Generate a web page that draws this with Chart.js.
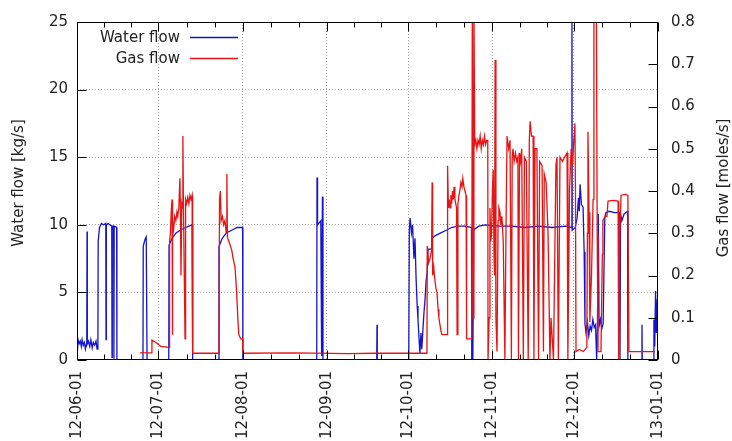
<!DOCTYPE html>
<html>
<head>
<meta charset="utf-8">
<script src="https://cdn.jsdelivr.net/npm/chart.js@4.4.0/dist/chart.umd.min.js"></script>
<style>
html, body { margin: 0; padding: 0; background: #fff; }
#wrap { width: 732px; height: 441px; }
</style>
</head>
<body>
<div id="wrap"><canvas id="flow"></canvas></div>
<script>
// x values are days counted from 2012-06-01
const monthDays = [0, 30, 61, 92, 122, 153, 183, 214];
const monthLabels = ['12-06-01', '12-07-01', '12-08-01', '12-09-01', '12-10-01', '12-11-01', '12-12-01', '13-01-01'];
const waterTicks = [0, 5, 10, 15, 20, 25];
const gasTicks = [0, 0.1, 0.2, 0.3, 0.4, 0.5, 0.6, 0.7, 0.8];
const gasTickLabels = ['0', '0.1', '0.2', '0.3', '0.4', '0.5', '0.6', '0.7', '0.8'];

// water flow [kg/s]
const waterDays = [
	0, 0.1, 0.4, 0.8, 1.2, 1.6, 1.9, 2.3, 2.7, 3.1, 3.6, 3.7, 3.8, 4.2, 4.7, 5.1, 5.6, 6.0, 6.5, 7.0,
	7.4, 7.7, 7.8, 8.3, 9.0, 9.8, 10.6, 10.7, 10.8, 11.5, 12.8, 12.9, 13.0, 13.5, 13.6, 13.7, 14.6, 14.7,
	24.3, 24.4, 25.0, 25.5, 25.8, 33.8, 33.9, 35.0, 36.5, 38.0, 40.0, 42.4, 42.6,
	52.2, 52.3, 53.5, 55.0, 57.0, 59.0, 61.0, 61.1,
	88.3, 88.4, 88.6, 89.8, 90.1, 90.4, 90.6, 110.4, 110.5, 110.6,
	122.2, 122.4, 122.7, 123.2, 123.6, 124.1, 124.5, 124.9, 125.3, 125.6, 126.0, 126.3, 126.7, 127.0,
	127.4, 127.8, 128.2, 128.6, 129.0, 129.3, 130.6, 130.8, 132.0, 134.0, 136.0, 138.0, 140.0, 142.9,
	145.3, 145.4, 145.8, 146.1, 146.6, 148.0, 150.3, 155.0, 160.0, 165.0, 170.0, 175.0, 180.0,
	182.2, 182.3, 182.4, 183.5, 184.2, 184.7, 185.0, 185.3, 185.8, 186.4, 186.8, 187.1, 187.5, 188.0,
	188.5, 189.0, 189.5, 190.0, 190.5, 191.0, 191.4, 191.7, 192.0, 192.3, 192.8, 193.3, 193.8, 194.4,
	194.8, 196.0, 198.0, 199.8, 200.0, 200.2, 200.7, 201.5, 202.8, 202.9, 208.0, 208.1, 208.2,
	212.3, 212.5, 212.8, 213.1, 213.4, 213.7, 214.0
];
const waterFlow = [
	10.0, 0.5, 1.5, 1.2, 1.4, 1.0, 1.5, 1.1, 1.3, 0.8, 1.3, 9.5, 1.2, 1.4, 1.0, 1.5, 0.9, 1.3, 1.1, 1.4,
	0.8, 1.2, 8.8, 9.8, 10.1, 10.0, 10.1, 1.5, 10.0, 10.1, 9.9, 0.2, 9.9, 9.9, 0.1, 9.9, 9.8, 0,
	0, 8.4, 8.9, 9.1, 0, 0, 8.5, 9.0, 9.4, 9.6, 9.8, 10.0, 0,
	0, 8.4, 9.0, 9.4, 9.6, 9.8, 9.8, 0,
	0, 13.5, 10.0, 10.3, 0.3, 12.1, 0, 0, 2.6, 0,
	0, 9.6, 10.5, 9.4, 10.0, 7.5, 9.0, 6.0, 4.0, 3.0, 1.5, 0.5, 2.0, 0.8,
	2.2, 3.5, 4.5, 5.9, 6.5, 8.2, 8.2, 9.0, 9.2, 9.4, 9.6, 9.8, 9.9, 9.9,
	9.8, 0, 0, 9.6, 9.7, 9.9, 10.0, 9.9, 9.9, 9.8, 9.9, 9.8, 9.9,
	9.8, 26, 9.6, 9.8, 10.5, 12.0, 11.0, 13.0, 11.5, 11.3, 8.0, 2.7, 2.0, 2.8,
	1.8, 2.5, 2.2, 3.0, 2.4, 2.6, 0, 2.5, 10.8, 2.5, 3.0, 2.3, 2.7, 10.5,
	10.9, 11.0, 10.9, 10.9, 0, 10.8, 10.3, 10.8, 11.0, 0, 0, 2.6, 0,
	0, 3.0, 1.0, 5.1, 2.0, 4.5, 1.0
];

// gas flow [moles/s]
const gasDays = [
	23.2, 27.5, 27.6, 29.0, 30.9, 33.9, 34.1, 34.4, 34.7, 35.0, 35.1, 35.3, 35.6, 36.0, 36.4, 36.8, 37.1,
	37.5, 37.9, 38.1, 38.3, 38.6, 38.9, 39.0, 39.2, 39.8, 40.0, 40.4, 40.8, 41.2, 41.6, 42.0, 42.4, 42.6,
	52.3, 52.5, 52.8, 53.1, 53.6, 54.0, 54.5, 55.0, 55.2, 55.4, 56.0, 56.5, 57.0, 57.5, 58.2, 58.8, 59.3,
	59.6, 60.3, 61.0, 61.1,
	80.0, 100.0, 110.0, 128.9,
	129.0, 129.5, 130.0, 130.6, 130.8, 131.0, 131.4, 131.8, 132.2, 132.6, 133.0, 133.3, 134.0, 134.4,
	136.3, 136.5, 136.8, 137.1, 137.4, 137.7, 138.0, 138.3, 138.6, 138.9, 139.2, 139.5, 139.8, 140.0,
	140.3, 140.7, 141.0, 141.4, 141.8, 142.1, 142.5, 142.9, 143.3, 143.5, 145.4, 145.6,
	146.0, 146.2, 146.5, 146.9, 147.3, 147.7, 148.1, 148.5, 148.9, 149.3, 149.7, 150.1, 150.5, 150.9,
	151.3, 151.4, 151.8, 152.1, 152.4, 152.7, 153.0, 153.3, 153.6, 153.8,
	154.0, 154.3, 154.7, 155.1, 155.4, 155.8, 156.1, 156.5, 157.0, 157.6, 158.0, 158.4, 159.0, 159.5,
	160.0, 160.3, 160.6, 161.0, 161.5, 162.0, 162.4, 162.6, 163.0, 163.4, 163.8, 164.4, 164.8, 165.5,
	166.2, 166.6, 166.9, 167.4, 168.0, 168.3, 168.7, 169.4, 170.0, 170.4, 171.3, 171.8, 172.1, 172.8,
	173.5, 174.2, 174.6, 175.5, 176.4, 176.8, 177.3, 177.9, 178.8, 179.6, 180.5, 180.8, 181.4, 182.0,
	182.5, 183.0, 183.4, 183.6, 183.8, 185.0, 186.5, 187.8, 188.0, 188.2, 188.6, 188.9, 189.5, 190.1,
	190.4, 191.3, 191.6, 191.9, 193.0, 193.5, 193.7, 194.5, 195.2, 195.6, 197.5, 199.3, 199.5, 199.9,
	200.4, 202.0, 202.9, 203.3, 208.0, 212.9
];
const gasFlow = [
	0.017, 0.017, 0.047, 0.042, 0.032, 0.030, 0.28, 0.30, 0.35, 0.38, 0.06, 0.33, 0.31, 0.34, 0.33, 0.35, 0.34,
	0.36, 0.43, 0.36, 0.20, 0.37, 0.36, 0.53, 0.37, 0.05, 0.38, 0.37, 0.385, 0.37, 0.39, 0.38, 0.39, 0.016,
	0.016, 0.38, 0.40, 0.33, 0.34, 0.32, 0.33, 0.30, 0.44, 0.29, 0.28, 0.27, 0.26, 0.24, 0.22, 0.16, 0.09,
	0.06, 0.05, 0.05, 0.016,
	0.017, 0.015, 0.016, 0.016,
	0.27, 0.23, 0.24, 0.26, 0.42, 0.20, 0.22, 0.19, 0.17, 0.16, 0.12, 0.10, 0.07, 0.06,
	0.06, 0.46, 0.36, 0.38, 0.36, 0.39, 0.37, 0.40, 0.38, 0.41, 0.38, 0.37, 0.36, 0.06,
	0.37, 0.39, 0.40, 0.42, 0.41, 0.43, 0.41, 0.40, 0.39, 0.05, 0.05, 0.85,
	0.10, 0.85, 0.51, 0.52, 0.50, 0.52, 0.51, 0.53, 0.50, 0.52, 0.51, 0.53, 0.51, 0.52,
	0.52, 0.0, 0.10, 0.36, 0.28, 0.30, 0.40, 0.45, 0.25, 0.20,
	0.71, 0.10, 0.02, 0.33, 0.36, 0.35, 0.32, 0.34, 0.28, 0.0, 0.30, 0.53, 0.50, 0.52,
	0.0, 0.48, 0.50, 0.47, 0.49, 0.47, 0.48, 0.0, 0.49, 0.47, 0.50, 0.0, 0.48, 0.47,
	0.0, 0.52, 0.565, 0.53, 0.53, 0.0, 0.50, 0.50, 0.0, 0.47, 0.46, 0.02, 0.44, 0.42,
	0.30, 0.0, 0.10, 0.0, 0.46, 0.48, 0.0, 0.48, 0.47, 0.48, 0.49, 0.0, 0.40, 0.50,
	0.46, 0.52, 0.56, 0.40, 0.02, 0.025, 0.02, 0.03, 0.30, 0.54, 0.35, 0.09, 0.20, 0.38,
	0.85, 0.85, 0.30, 0.02, 0.02, 0.25, 0.33, 0.34, 0.34, 0.376, 0.378, 0.376, 0.0, 0.30,
	0.39, 0.392, 0.39, 0.02, 0.02, 0.02
];

const BLUE = 'rgb(20, 20, 205)';
const RED = 'rgb(230, 20, 20)';
const FONT = '"DejaVu Sans", sans-serif';

// gnuplot style frame, inward ticks, legend and axis titles
const gnuplotFrame = {
	id: 'gnuplotFrame',
	afterDatasetsDraw(chart) {
		const ctx = chart.ctx;
		const a = chart.chartArea;
		const sx = chart.scales.x, sy = chart.scales.y, sy2 = chart.scales.y2;
		const L = Math.round(a.left) + 0.5, R = Math.round(a.right) - 0.5;
		const T = Math.round(a.top) + 0.5, B = Math.round(a.bottom) - 0.5;
		ctx.save();
		ctx.strokeStyle = '#000';
		ctx.lineWidth = 1;
		ctx.beginPath();
		for (let i = 0; i < monthDays.length; i++) {
			const px = Math.round(sx.getPixelForValue(monthDays[i])) + 0.5;
			ctx.moveTo(px, B); ctx.lineTo(px, B - 9);
			ctx.moveTo(px, T); ctx.lineTo(px, T + 9);
			if (i < monthDays.length - 1) {
				const step = (monthDays[i + 1] - monthDays[i]) / 3;
				for (let k = 1; k < 3; k++) {
					const mx = Math.round(sx.getPixelForValue(monthDays[i] + k * step)) + 0.5;
					ctx.moveTo(mx, B); ctx.lineTo(mx, B - 5);
					ctx.moveTo(mx, T); ctx.lineTo(mx, T + 5);
				}
			}
		}
		waterTicks.forEach(v => {
			const py = Math.round(sy.getPixelForValue(v)) + 0.5;
			ctx.moveTo(L, py); ctx.lineTo(L + 9, py);
		});
		gasTicks.forEach(v => {
			const py = Math.round(sy2.getPixelForValue(v)) + 0.5;
			ctx.moveTo(R, py); ctx.lineTo(R - 9, py);
		});
		ctx.stroke();
		ctx.strokeRect(L, T, R - L, B - T);

		// legend
		ctx.font = '15px ' + FONT;
		ctx.fillStyle = '#222';
		ctx.textAlign = 'right';
		ctx.textBaseline = 'middle';
		ctx.fillText('Water flow', 180, 38);
		ctx.fillText('Gas flow', 180, 59);
		ctx.lineWidth = 1.3;
		ctx.strokeStyle = BLUE;
		ctx.beginPath(); ctx.moveTo(190, 37.5); ctx.lineTo(238, 37.5); ctx.stroke();
		ctx.strokeStyle = RED;
		ctx.beginPath(); ctx.moveTo(190, 58.5); ctx.lineTo(238, 58.5); ctx.stroke();

		// axis titles, both read bottom to top
		ctx.textAlign = 'center';
		ctx.save();
		ctx.translate(19, 183);
		ctx.rotate(-Math.PI / 2);
		ctx.fillText('Water flow [kg/s]', 0, 0);
		ctx.restore();
		ctx.save();
		ctx.translate(724, 188);
		ctx.rotate(-Math.PI / 2);
		ctx.fillText('Gas flow [moles/s]', 0, 0);
		ctx.restore();
		ctx.restore();
	}
};

const hideEdges = (lo, hi) => (c) => {
	const v = c.tick ? c.tick.value : null;
	return (v === lo || v === hi) ? 'rgba(0,0,0,0)' : '#a0a0a0';
};

new Chart(document.getElementById('flow'), {
	type: 'line',
	data: {
		datasets: [
			{
				label: 'Gas flow',
				data: gasDays.map((d, i) => ({ x: d, y: gasFlow[i] })),
				yAxisID: 'y2',
				borderColor: RED,
				borderWidth: 1.3,
				pointRadius: 0,
				order: 0
			},
			{
				label: 'Water flow',
				data: waterDays.map((d, i) => ({ x: d, y: waterFlow[i] })),
				yAxisID: 'y',
				borderColor: BLUE,
				borderWidth: 1.3,
				pointRadius: 0,
				order: 1
			}
		]
	},
	options: {
		responsive: true,
		maintainAspectRatio: false,
		animation: false,
		layout: { padding: { top: 20, left: 0, right: 0, bottom: 0 } },
		plugins: {
			legend: { display: false },
			tooltip: { enabled: false }
		},
		scales: {
			x: {
				type: 'linear',
				position: 'bottom',
				min: 0,
				max: 214,
				afterBuildTicks: (s) => { s.ticks = monthDays.map(v => ({ value: v })); },
				afterFit: (s) => { s.height = 81; },
				ticks: {
					autoSkip: false,
					minRotation: 90,
					maxRotation: 90,
					padding: 11,
					color: '#222',
					font: { family: FONT, size: 15 },
					callback: (v) => monthLabels[monthDays.indexOf(v)]
				},
				grid: { color: hideEdges(0, 214), drawTicks: false },
				border: { display: false, dash: [1, 2] }
			},
			y: {
				position: 'left',
				min: 0,
				max: 25,
				afterBuildTicks: (s) => { s.ticks = waterTicks.map(v => ({ value: v })); },
				afterFit: (s) => { s.width = 77; },
				ticks: {
					padding: 9,
					color: '#222',
					font: { family: FONT, size: 15 }
				},
				grid: { color: hideEdges(0, 25), drawTicks: false },
				border: { display: false, dash: [1, 2] }
			},
			y2: {
				position: 'right',
				min: 0,
				max: 0.8,
				afterBuildTicks: (s) => { s.ticks = gasTicks.map(v => ({ value: v })); },
				afterFit: (s) => { s.width = 74; },
				ticks: {
					padding: 13,
					color: '#222',
					font: { family: FONT, size: 15 },
					callback: (v) => gasTickLabels[gasTicks.indexOf(v)]
				},
				grid: { drawOnChartArea: false, drawTicks: false },
				border: { display: false }
			}
		}
	},
	plugins: [gnuplotFrame]
});
</script>
</body>
</html>
